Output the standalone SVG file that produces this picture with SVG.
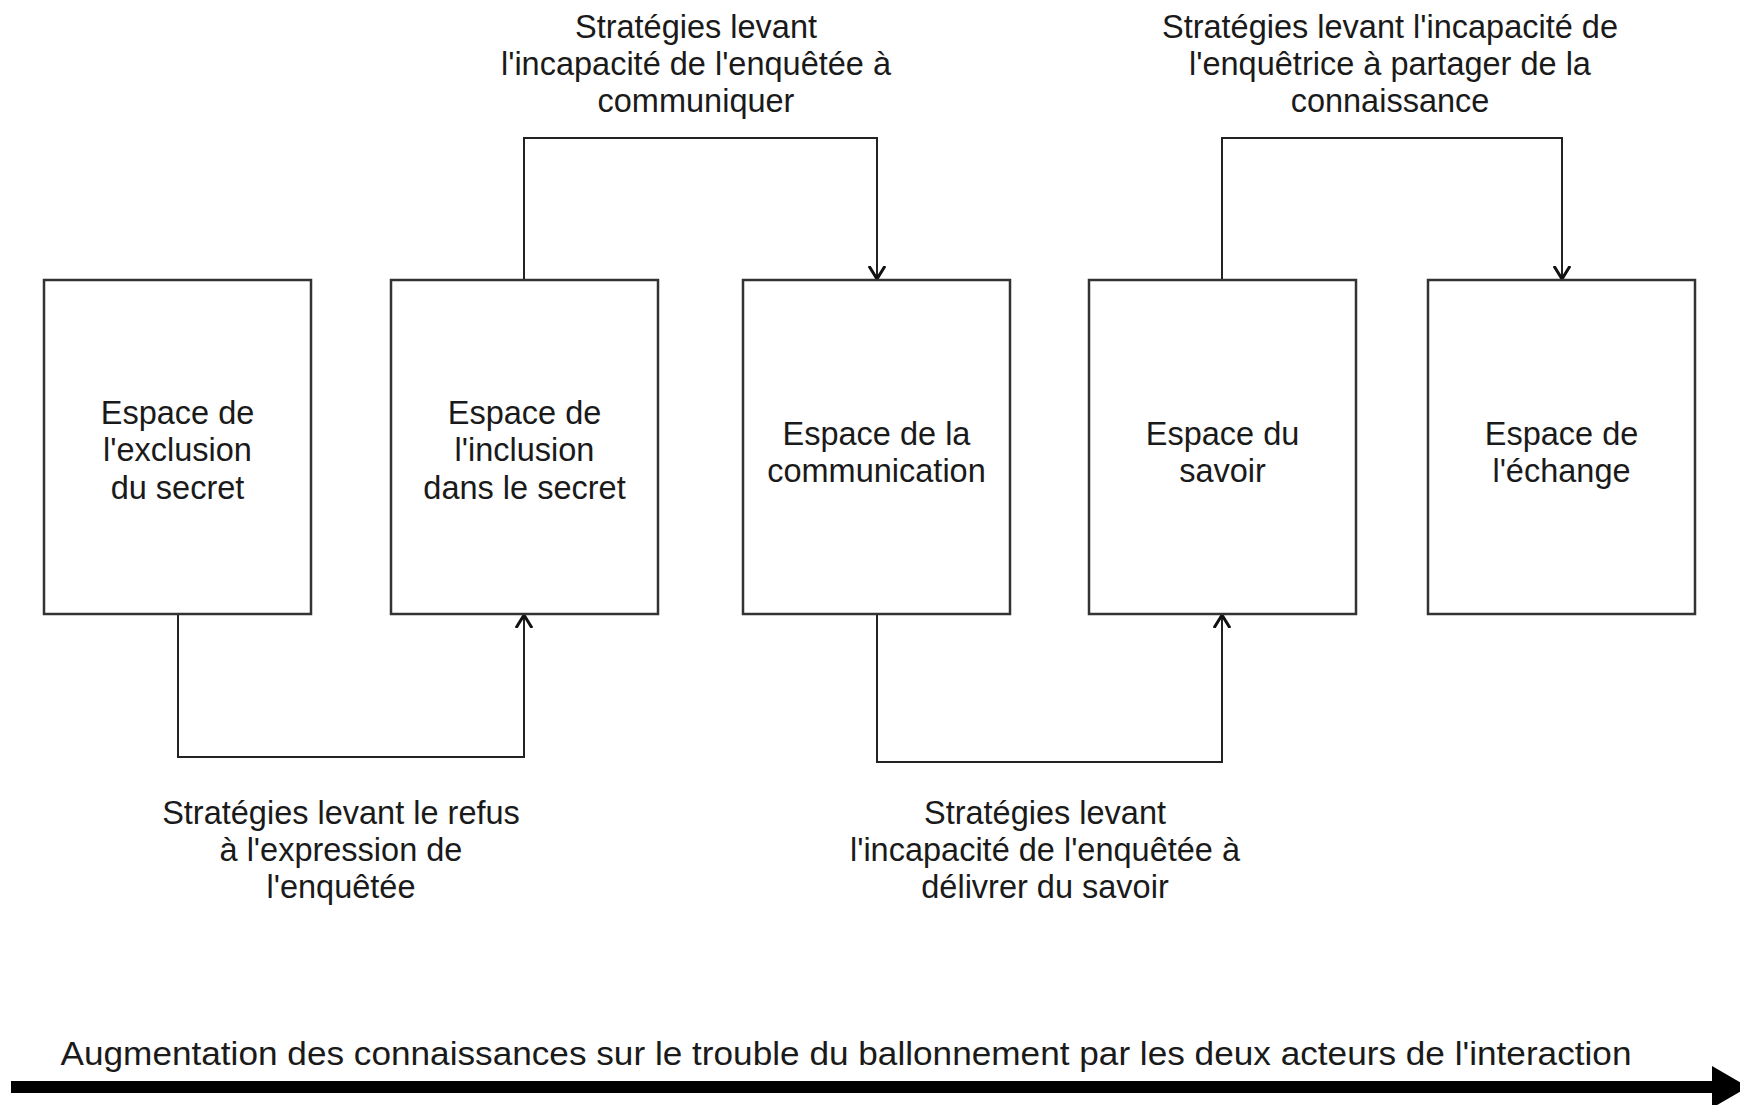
<svg xmlns="http://www.w3.org/2000/svg" width="1740" height="1105" viewBox="0 0 1740 1105">
<style>
.box{fill:#fff;stroke:#333;stroke-width:2.5}
.t{font-family:"Liberation Sans",Arial,sans-serif;font-size:32.5px;fill:#1a1a1a;text-anchor:middle}
.c{fill:none;stroke:#222;stroke-width:2}
</style>
<defs>
<marker id="arr" markerUnits="userSpaceOnUse" viewBox="0 0 14 18" refX="13" refY="9" markerWidth="14" markerHeight="18" orient="auto">
<path d="M0,1 L13,9 L0,17" fill="none" stroke="#111" stroke-width="3"/>
</marker>
</defs>
<rect width="1740" height="1105" fill="#fff"/>
<g id="connectors">
<path class="c" d="M524,280 V138 H877 V279" marker-end="url(#arr)"/>
<path class="c" d="M1222,280 V138 H1562 V279" marker-end="url(#arr)"/>
<path class="c" d="M178,614 V757 H524 V615" marker-end="url(#arr)"/>
<path class="c" d="M877,614 V762 H1222 V615" marker-end="url(#arr)"/>
</g>
<g id="node1"><rect class="box" x="44" y="280" width="267" height="334"/>
<text class="t" x="177.5" y="424">Espace de</text><text class="t" x="177.5" y="461">l'exclusion</text><text class="t" x="177.5" y="499">du secret</text></g>
<g id="node2"><rect class="box" x="391" y="280" width="267" height="334"/>
<text class="t" x="524.5" y="424">Espace de</text><text class="t" x="524.5" y="461">l'inclusion</text><text class="t" x="524.5" y="499">dans le secret</text></g>
<g id="node3"><rect class="box" x="743" y="280" width="267" height="334"/>
<text class="t" x="876.5" y="445">Espace de la</text><text class="t" x="876.5" y="482">communication</text></g>
<g id="node4"><rect class="box" x="1089" y="280" width="267" height="334"/>
<text class="t" x="1222.5" y="445">Espace du</text><text class="t" x="1222.5" y="482">savoir</text></g>
<g id="node5"><rect class="box" x="1428" y="280" width="267" height="334"/>
<text class="t" x="1561.5" y="445">Espace de</text><text class="t" x="1561.5" y="482">l'échange</text></g>
<g id="label-top1">
<text class="t" x="696" y="38">Stratégies levant</text>
<text class="t" x="696" y="75">l'incapacité de l'enquêtée à</text>
<text class="t" x="696" y="112">communiquer</text></g>
<g id="label-top2">
<text class="t" x="1390" y="38">Stratégies levant l'incapacité de</text>
<text class="t" x="1390" y="75">l'enquêtrice à partager de la</text>
<text class="t" x="1390" y="112">connaissance</text></g>
<g id="label-bottom1">
<text class="t" x="341" y="824">Stratégies levant le refus</text>
<text class="t" x="341" y="861">à l'expression de</text>
<text class="t" x="341" y="898">l'enquêtée</text></g>
<g id="label-bottom2">
<text class="t" x="1045" y="824">Stratégies levant</text>
<text class="t" x="1045" y="861">l'incapacité de l'enquêtée à</text>
<text class="t" x="1045" y="898">délivrer du savoir</text></g>
<g id="axis">
<text class="t" x="846" y="1065" textLength="1571" lengthAdjust="spacingAndGlyphs">Augmentation des connaissances sur le trouble du ballonnement par les deux acteurs de l'interaction</text>
<rect x="11" y="1081" width="1705" height="12" fill="#000"/>
<polygon points="1712,1066 1748,1087 1712,1108" fill="#000"/>
</g>
</svg>
